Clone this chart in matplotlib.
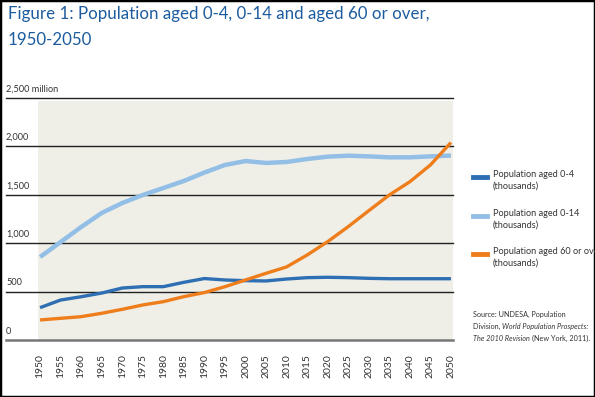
import matplotlib
matplotlib.use("Agg")
import matplotlib.pyplot as plt
from matplotlib.patches import Rectangle

years = list(range(1950, 2051, 5))
pop_0_4 = [334, 413, 447, 485, 537, 551, 551, 596, 635, 620, 613, 610, 630, 644, 648, 644, 637, 633, 633, 633, 633]
pop_0_14 = [857, 1012, 1167, 1312, 1415, 1498, 1570, 1643, 1730, 1808, 1849, 1829, 1839, 1870, 1894, 1904, 1897, 1887, 1887, 1897, 1905]
pop_60 = [207, 224, 241, 276, 317, 362, 396, 448, 490, 551, 620, 689, 755, 878, 1016, 1171, 1336, 1498, 1635, 1808, 2040]
yticks = [0, 500, 1000, 1500, 2000, 2500]
ytick_labels = ["0", "500", "1,000", "1,500", "2,000", "2,500 million"]

W, H = 595, 397
fig = plt.figure(figsize=(W / 100, H / 100), dpi=100)
fig.patch.set_facecolor("white")

font = ["Lato", "DejaVu Sans"]

ax = fig.add_axes([38 / W, 1 - 340 / H, (453 - 38) / W, (340 - 98) / H])
ax.set_facecolor("#efefe7")
ax.set_xlim(1949.5, 2050.5)
ax.set_ylim(0, 2500)
for s in ax.spines.values():
    s.set_visible(False)
ax.set_yticks([])
ax.set_xticks(years)
ax.set_xticklabels([str(y) for y in years], rotation=90, fontsize=7.5, color="#333333",
                   va="top", family=font)
ax.tick_params(axis="x", length=0, pad=10)

# gridlines extending left of the axes
ytr = ax.get_yaxis_transform()
x0 = (6 - 38) / (453 - 38)
for v, lab in zip(yticks, ytick_labels):
    ax.plot([x0, 1], [v, v], transform=ytr, clip_on=False,
            color="#777777" if v == 0 else "#222222", lw=1.8 if v == 0 else 1.0, zorder=1)
    ax.text(x0, v + 45, lab, transform=ytr, fontsize=6.6, color="#333333",
            ha="left", va="bottom", family=font)

# white strip right under the 2500 line
ax.add_patch(Rectangle((0, 2470), 1, 30, transform=ytr, facecolor="white", edgecolor="none", zorder=0.5))

c_dark, c_light, c_orange = "#2e6fb3", "#93bfe6", "#ee7d1c"
ax.plot(years, pop_0_14, color=c_light, lw=3.2, zorder=3, solid_capstyle="butt")
ax.plot(years, pop_0_4, color=c_dark, lw=2.4, zorder=3, solid_capstyle="butt")
ax.plot(years, pop_60, color=c_orange, lw=2.4, zorder=4, solid_capstyle="butt")

# title
fig.text(8 / W, 1 - 6 / H, "Figure 1: Population aged 0-4, 0-14 and aged 60 or over,\n1950-2050",
         fontsize=12.2, color="#1d5c9e", ha="left", va="top", family=font, linespacing=1.75)

# legend
entries = [("Population aged 0-4\n(thousands)", c_dark, 177),
           ("Population aged 0-14\n(thousands)", c_light, 216),
           ("Population aged 60 or over\n(thousands)", c_orange, 254)]
for label, col, yp in entries:
    fig.add_artist(plt.Line2D([473 / W, 487 / W], [1 - yp / H, 1 - yp / H], color=col, lw=3.5))
    fig.text(493 / W, 1 - (yp - 7) / H, label, fontsize=6.6, color="#333333",
             ha="left", va="top", family=font, linespacing=1.4)

# source (pieces placed one after another)
fs = 5.2
renderer = fig.canvas.get_renderer()
def seq(parts, y):
    x = 473
    for txt, style in parts:
        t = fig.text(x / W, 1 - y / H, txt, fontsize=fs, color="#333333",
                     ha="left", va="top", family=font, style=style)
        x += t.get_window_extent(renderer).width
seq([("Source: UNDESA, Population", "normal")], 311)
seq([("Division, ", "normal"), ("World Population Prospects:", "italic")], 323)
seq([("The 2010 Revision ", "italic"), ("(New York, 2011).", "normal")], 335)

# border
fig.add_artist(Rectangle((0, 0), 1, 1, transform=fig.transFigure, fill=False,
                         edgecolor="black", lw=2.5))

fig.savefig("out.png", dpi=100)
